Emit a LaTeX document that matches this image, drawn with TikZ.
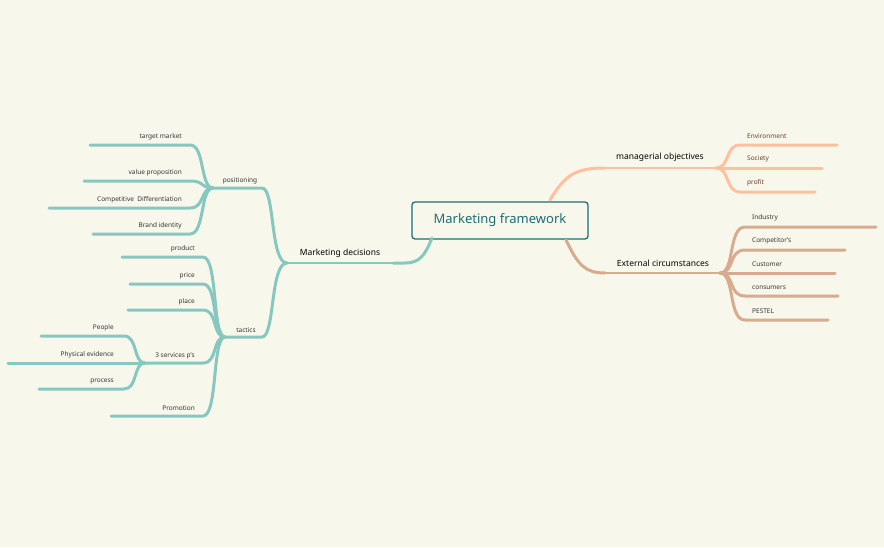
\documentclass[tikz,border=0pt]{standalone}
\usepackage{fontspec}
\setmainfont{Noto Sans}
\definecolor{bg}{HTML}{F8F7EC}
\definecolor{teal}{HTML}{86C8BF}
\definecolor{salm}{HTML}{FFC0A0}
\definecolor{tan}{HTML}{D9AB8E}
\definecolor{dk}{HTML}{1B6F74}
\definecolor{brn}{HTML}{6B3A28}
\begin{document}
\begin{tikzpicture}[x=1pt,y=-1pt,
  br/.style={line width=3pt,line cap=round},
  thin/.style={line width=1.2pt},
  lab/.style={font=\fontsize{6.5}{7}\selectfont,text=black!80,inner sep=1pt},
  rlab/.style={lab,text=brn},
  main/.style={font=\bfseries\fontsize{8.5}{10}\selectfont,text=black,inner sep=1pt}]
\fill[bg] (0,0) rectangle (884,547);
\useasboundingbox (0,0) rectangle (884,547);
% central
\node[draw=dk,line width=1.3pt,rounded corners=3pt,minimum width=176pt,minimum height=37pt,fill=bg,
  font=\bfseries\fontsize{13}{15}\selectfont,text=dk] (root) at (500,220.5) {Marketing framework};
% ---------- left: Marketing decisions
\coordinate (mdH) at (287,263);
\coordinate (mdE) at (405,263);
\draw[teal,thin] (mdH) -- (mdE);
\draw[teal,br] (393,263) -- (405,263) .. controls (420,263) and (425,255) .. (432,238);
\node[main,anchor=south] (md) at (340,259) {Marketing decisions};
% positioning
\coordinate (poH) at (213,188);
\coordinate (taH) at (225,337);
\draw[teal,br] (mdH) .. controls (270,263) and (275,188) .. (262,188) -- (poH);
\draw[teal,br] (mdH) .. controls (270,263) and (275,337) .. (262,337) -- (taH);
\node[lab,anchor=south] (po) at (240,185) {positioning};
\node[lab,anchor=south] (ta) at (246,334) {tactics};
\foreach \y/\xs/\t/\n in {145/90/target market/p1,181/84/value proposition/p2,208/49/Competitive\ \ Differentiation/p3,234/93/Brand identity/p4}{
  \coordinate (\n) at (\xs,\y);
  \draw[teal,br] (poH) .. controls (200,188) and (205,\y) .. (190,\y) -- (\n);
  \node[lab,anchor=south east] (\n t) at (183,\y-4) {\t};
}
\foreach \y/\xs/\t/\n in {257/122/product/t1,284/130/price/t2,310/128/place/t3,416/111/Promotion/t5}{
  \coordinate (\n) at (\xs,\y);
  \draw[teal,br] (taH) .. controls (212,337) and (218,\y) .. (203,\y) -- (\n);
  \node[lab,anchor=south east] (\n t) at (196,\y-4) {\t};
}
\coordinate (svH) at (145,363);
\draw[teal,br] (taH) .. controls (212,337) and (218,363) .. (203,363) -- (svH);
\node[lab,anchor=south] (sv) at (175,360) {3 services p's};
\foreach \y/\xs/\t/\n in {336/41/People/s1,363/8/Physical evidence/s2,389/39/process/s3}{
  \coordinate (\n) at (\xs,\y);
  \draw[teal,br] (svH) .. controls (133,363) and (138,\y) .. (124,\y) -- (\n);
  \node[lab,anchor=south east] (\n t) at (115,\y-4) {\t};
}
% ---------- right: managerial objectives
\coordinate (moH) at (716,168);
\draw[salm,thin] (605,168) -- (moH);
\draw[salm,br] (550,200) .. controls (565,175) and (575,168) .. (605,168);
\node[main,anchor=south] (mo) at (660,163) {managerial objectives};
\foreach \y/\xe/\t/\n in {145/837/Environment/m1,168/822/Society/m2,192/815/profit/m3}{
  \coordinate (\n) at (\xe,\y);
  \draw[salm,br] (moH) .. controls (730,168) and (725,\y) .. (740,\y) -- (\n);
  \node[rlab,anchor=south west] (\n t) at (746,\y-5) {\t};
}
% External circumstances
\coordinate (ecH) at (720,273);
\draw[tan,thin] (605,273) -- (ecH);
\draw[tan,br] (566,240) .. controls (578,265) and (585,273) .. (605,273);
\node[main,anchor=south] (ec) at (663,268) {External circumstances};
\foreach \y/\xe/\t/\n in {227/876/Industry/e1,250/845/Competitor's/e2,273/835/Customer/e3,296/838/consumers/e4,320/828/PESTEL/e5}{
  \coordinate (\n) at (\xe,\y);
  \draw[tan,br] (ecH) .. controls (735,273) and (728,\y) .. (745,\y) -- (\n);
  \node[lab,anchor=south west] (\n t) at (751,\y-5) {\t};
}
\end{tikzpicture}
\end{document}
